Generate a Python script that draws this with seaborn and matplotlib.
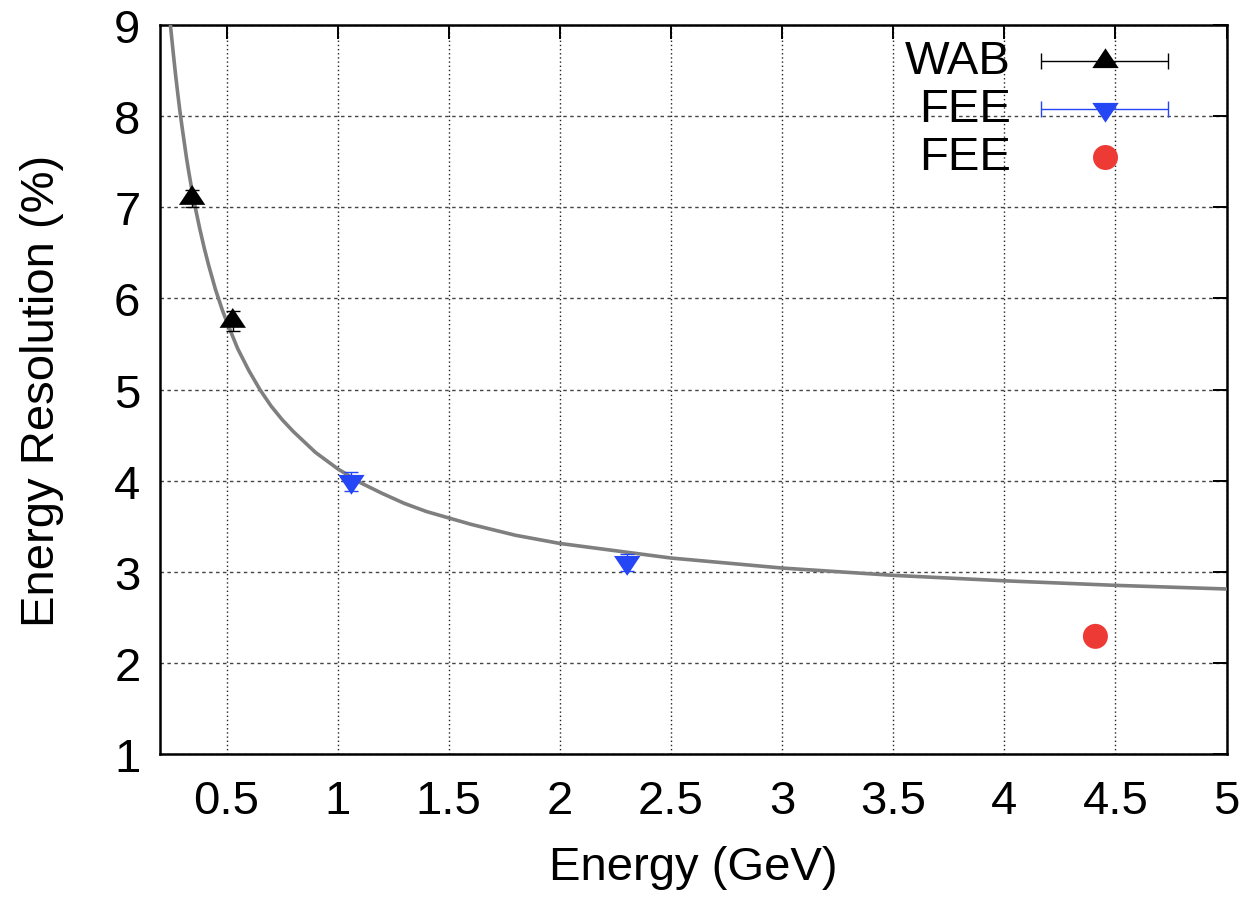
import matplotlib
matplotlib.use("Agg")
import matplotlib.pyplot as plt
import seaborn as sns
import pandas as pd

# fit curve, values
fit_energy = [0.24, 0.25, 0.26, 0.27, 0.28, 0.29, 0.30, 0.32, 0.33, 0.34, 0.36,
              0.38, 0.40, 0.42, 0.45, 0.48, 0.50, 0.55, 0.60, 0.65, 0.70, 0.75,
              0.80, 0.90, 1.0, 1.1, 1.2, 1.3, 1.4, 1.6, 1.8, 2.0, 2.5, 3.0,
              3.5, 4.0, 4.5, 5.0]
fit_res = [9.20, 8.94, 8.70, 8.47, 8.26, 8.06, 7.88, 7.54, 7.39, 7.25, 6.99,
           6.76, 6.55, 6.36, 6.10, 5.88, 5.75, 5.45, 5.21, 5.00, 4.82, 4.67,
           4.54, 4.31, 4.13, 3.98, 3.86, 3.75, 3.66, 3.52, 3.40, 3.31, 3.15,
           3.04, 2.96, 2.90, 2.85, 2.81]

# data points
wab_energy = [0.345, 0.528]
wab_res = [7.10, 5.75]
wab_err = [0.095, 0.11]

fee_energy = [1.062, 2.303]
fee_res = [3.99, 3.10]
fee_err = [0.105, 0.095]

fee2_energy = [4.41]
fee2_res = [2.29]

legend_labels = ["WAB", "FEE", "FEE"]
xticks = [0.5, 1, 1.5, 2, 2.5, 3, 3.5, 4, 4.5, 5]
xtick_labels = ["0.5", "1", "1.5", "2", "2.5", "3", "3.5", "4", "4.5", "5"]
yticks = [1, 2, 3, 4, 5, 6, 7, 8, 9]

sns.set_style("white")
plt.rcParams["font.family"] = ["Liberation Sans", "DejaVu Sans"]
plt.rcParams["text.color"] = "black"
plt.rcParams["axes.labelcolor"] = "black"

# gnuplot-like triangles, centred on their centroid
tri_up = [(0, 12), (-12, -6), (12, -6), (0, 12)]
tri_down = [(0, -12), (-12, 6), (12, 6), (0, -12)]
tri_ms = 19

fig = plt.figure(figsize=(12.49, 9.04), dpi=100)
ax = fig.add_axes([0.128, 0.165, 0.854, 0.806])

fit_df = pd.DataFrame({"E": fit_energy, "res": fit_res})
sns.lineplot(data=fit_df, x="E", y="res", color="#7f7f7f", lw=2.6, ax=ax,
             zorder=3)

black = "#000000"
blue = "#2546f5"
red = "#ee3a34"

ax.errorbar(wab_energy, wab_res, yerr=wab_err, fmt="none", ecolor=black,
            elinewidth=1, capsize=5, zorder=4)
ax.errorbar(fee_energy, fee_res, yerr=fee_err, fmt="none", ecolor=blue,
            elinewidth=1, capsize=5, zorder=4)
sns.scatterplot(x=wab_energy, y=wab_res, marker=tri_up, s=tri_ms**2,
                color=black, edgecolor="none", ax=ax, zorder=5)
sns.scatterplot(x=fee_energy, y=fee_res, marker=tri_down, s=tri_ms**2,
                color=blue, edgecolor="none", ax=ax, zorder=5)
sns.scatterplot(x=fee2_energy, y=fee2_res, marker="o", s=18**2, color=red,
                edgecolor="none", ax=ax, zorder=5)

ax.set_xlim(0.2, 5)
ax.set_ylim(1, 9)
ax.set_xticks(xticks)
ax.set_xticklabels(xtick_labels)
ax.set_yticks(yticks)
ax.set_yticklabels([str(v) for v in yticks])

ax.grid(True, axis="x", color="#222222", lw=1.0, ls=(0, (1, 2)))
ax.grid(True, axis="y", color="#444444", lw=1.0, ls=(0, (2.5, 2.5)))
ax.set_axisbelow(True)

for sp in ax.spines.values():
    sp.set_color("black")
    sp.set_linewidth(1.8)

ax.tick_params(axis="both", which="major", direction="in", length=10,
               width=1.4, top=True, right=True, labelsize=34, colors="black")
ax.tick_params(axis="x", pad=18)
ax.tick_params(axis="y", pad=14)

ax.set_xlabel("Energy (GeV)", fontsize=34, labelpad=16)
ax.set_ylabel("Energy Resolution (%)", fontsize=34, labelpad=36)

# gnuplot-style key, drawn in axes coordinates
key_y = [0.951, 0.885, 0.819]
key_colors = [black, blue, red]
key_markers = [tri_up, tri_down, "o"]
for i, lab in enumerate(legend_labels):
    ax.text(0.798, key_y[i], lab, transform=ax.transAxes, ha="right",
            va="center", fontsize=34, color="black")
    if i < 2:
        ax.errorbar([0.886], [key_y[i]], xerr=[0.0595], fmt="none",
                    ecolor=key_colors[i], elinewidth=1, capsize=6,
                    transform=ax.transAxes, clip_on=False, zorder=6)
        ax.plot([0.886], [key_y[i]], marker=key_markers[i], ms=tri_ms,
                color=key_colors[i], mec="none", ls="none",
                transform=ax.transAxes, zorder=7)
    else:
        ax.plot([0.886], [key_y[i]], marker="o", ms=18, color=red,
                mec="none", ls="none", transform=ax.transAxes, zorder=7)

fig.savefig("out.png", dpi=100)
plt.close(fig)
